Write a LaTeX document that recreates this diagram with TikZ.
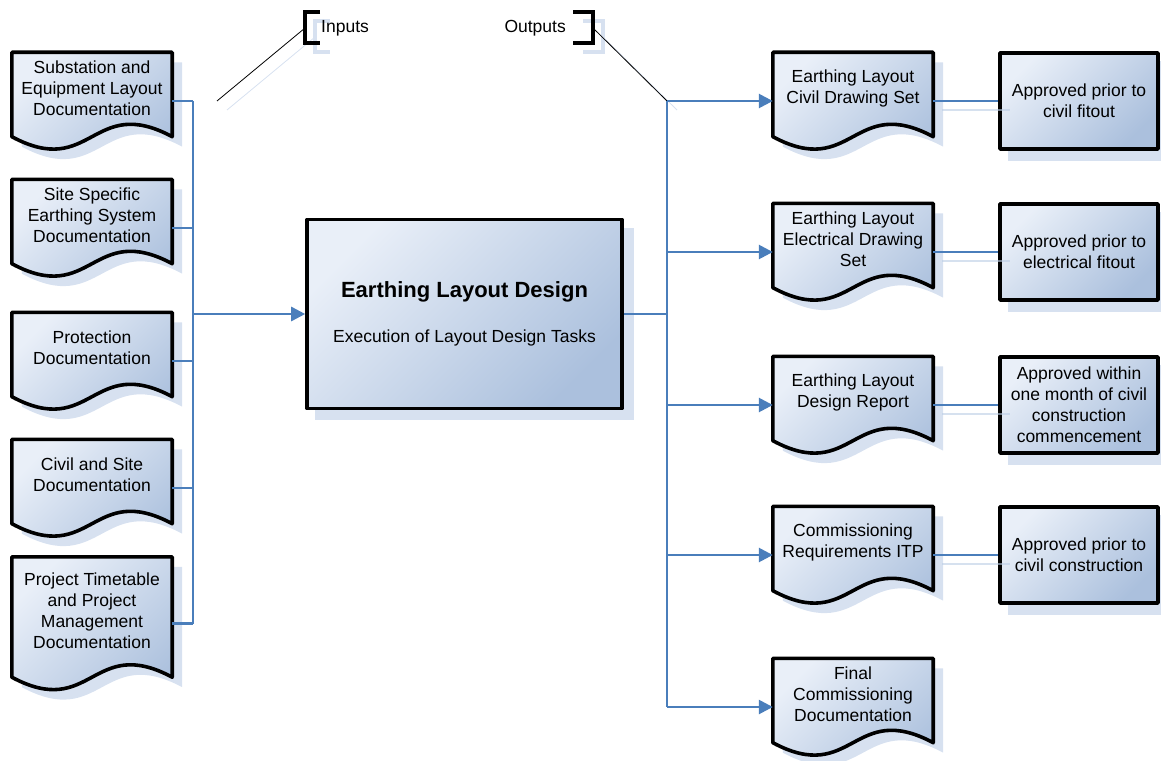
\documentclass[tikz,border=0pt]{standalone}
\usepackage{fontspec}
\setmainfont{Liberation Sans}
\usetikzlibrary{calc,arrows.meta}
\definecolor{cblue}{HTML}{4A7EBB}
\definecolor{gl}{HTML}{E9EFF8}
\definecolor{gd}{HTML}{ABC0DD}
\definecolor{shc}{HTML}{D7E1F0}
\pgfdeclarelayer{bg}
\pgfdeclarelayer{mid}
\pgfsetlayers{bg,mid,main}
\newcommand\docout[2]{($(#1.north west)+(#2,#2)$) -- ($(#1.north east)+(#2,#2)$) -- ($(#1.south east)+(#2,#2-13)$) .. controls ($(#1.south)+(#2,#2-56)$) and ($(#1.south)+(#2,#2+30)$) .. ($(#1.south west)+(#2,#2-13)$) -- cycle}
\tikzset{
  docnode/.style={minimum width=160pt, minimum height=97pt, inner sep=0pt},
  txt/.style={font=\fontsize{17.5}{21}\selectfont, align=center, inner sep=0pt},
  docbody/.style={draw=black, line width=3.6pt, line join=round, top color=gl, bottom color=gd, shading angle=45},
  boxnode/.style={docbody, txt, minimum width=158pt, minimum height=96pt},
  shd/.style={fill=shc, draw=none},
  conn/.style={draw=cblue, line width=2.6pt},
  arr/.style={-{Triangle[length=14pt,width=14pt]}},
  brk/.style={draw=black, line width=4pt},
  brkshd/.style={draw=shc, line width=4pt},
  ann/.style={draw=black, line width=0.8pt},
  annshd/.style={draw=shc, line width=0.8pt},
  cshd/.style={draw=shc!80!cblue, line width=2.4pt, opacity=0.6},
}
\begin{document}
\begin{tikzpicture}[x=1pt,y=-1pt]
\useasboundingbox (0,0) rectangle (1161,760);

% ---------- input documents ----------
\node[docnode] (i1) at (92,101) {};
\node[docnode] (i2) at (92,228) {};
\node[docnode] (i3) at (92,361) {};
\node[docnode] (i4) at (92,488) {};
\node[docnode, minimum height=133pt] (i5) at (92,623.5) {};
% ---------- output documents ----------
\node[docnode] (o1) at (853,101) {};
\node[docnode] (o2) at (853,252) {};
\node[docnode] (o3) at (853,405) {};
\node[docnode] (o4) at (853,555) {};
\node[docnode] (o5) at (853,707) {};

\begin{pgfonlayer}{bg}
  \foreach \n in {i1,i2,i3,i4,i5,o1,o2,o3,o4,o5} {\fill[shd] \docout{\n}{10};}
\end{pgfonlayer}
\begin{pgfonlayer}{mid}
  \foreach \n in {i1,i2,i3,i4,i5,o1,o2,o3,o4,o5} {\draw[docbody] \docout{\n}{0};}
\end{pgfonlayer}

\node[txt] (i1t) at ([yshift=13pt]i1.center) {Substation and\\Equipment Layout\\Documentation};
\node[txt] (i2t) at ([yshift=13pt]i2.center) {Site Specific\\Earthing System\\Documentation};
\node[txt] (i3t) at ([yshift=13pt]i3.center) {Protection\\Documentation};
\node[txt] (i4t) at ([yshift=13pt]i4.center) {Civil and Site\\Documentation};
\node[txt] (i5t) at ([yshift=13pt]i5.center) {Project Timetable\\and Project\\Management\\Documentation};

\node[txt] (o1t) at ([yshift=13pt]o1.center) {Earthing Layout\\Civil Drawing Set};
\node[txt] (o2t) at ([yshift=13pt]o2.center) {Earthing Layout\\Electrical Drawing\\Set};
\node[txt] (o3t) at ([yshift=13pt]o3.center) {Earthing Layout\\Design Report};
\node[txt] (o4t) at ([yshift=13pt]o4.center) {Commissioning\\Requirements ITP};
\node[txt] (o5t) at ([yshift=13pt]o5.center) {Final\\Commissioning\\Documentation};

% ---------- central process ----------
\node[docbody, minimum width=315pt, minimum height=189pt, inner sep=0pt] (mid) at (464.5,314) {};
\node[font=\fontsize{22}{26}\selectfont\bfseries, inner sep=0pt] (midt) at ([yshift=22pt]mid.center) {Earthing Layout Design};
\node[txt] (mids) at ([yshift=-24pt]mid.center) {Execution of Layout Design Tasks};

% ---------- approval boxes ----------
\node[boxnode] (a1) at (1079,101) {Approved prior to\\civil fitout};
\node[boxnode] (a2) at (1079,252) {Approved prior to\\electrical fitout};
\node[boxnode] (a3) at (1079,405) {Approved within\\one month of civil\\construction\\commencement};
\node[boxnode] (a4) at (1079,555) {Approved prior to\\civil construction};

\begin{pgfonlayer}{bg}
  \fill[shd] ($(mid.north west)+(10,10)$) rectangle ($(mid.south east)+(10,10)$);
  \foreach \n in {a1,a2,a3,a4} {\fill[shd] ($(\n.north west)+(10,10)$) rectangle ($(\n.south east)+(10,10)$);}
\end{pgfonlayer}

% connector shadows
\foreach \k in {1,2,3,4} {\draw[cshd] ($(o\k.east)+(9,9)$) -- ($(a\k.west)+(12,9)$);}

% ---------- annotations ----------
\node[txt, anchor=west] (inl) at (321,28.5) {Inputs};
\node[txt, anchor=east] (outl) at (566,28.5) {Outputs};
\coordinate (inb) at (305,28);
\coordinate (ine) at (217,101);
\coordinate (outb) at (593,28);
\coordinate (ob) at (667,101);
\coordinate (ib) at (193,101);
\begin{pgfonlayer}{bg}
  \draw[brkshd] (330,21) -- (315,21) -- (315,52) -- (330,52);
  \draw[brkshd] (583,21) -- (603,21) -- (603,52) -- (583,52);
  \draw[annshd] ($(inb)+(10,9)$) -- ($(ine)+(10,9)$);
  \draw[annshd] ($(outb)+(10,9)$) -- ($(ob)+(10,9)$);
\end{pgfonlayer}
\draw[brk] (320,12) -- (305,12) -- (305,43) -- (320,43);
\draw[brk] (573,12) -- (593,12) -- (593,43) -- (573,43);
\draw[ann] (inb) -- (ine);
\draw[ann] (outb) -- (ob);

% ---------- input connectors ----------
\foreach \n in {i1,i2,i3,i4,i5} {\draw[conn] (\n.east) -- (\n.east -| ib);}
\draw[conn] (i1.east -| ib) -- (i5.east -| ib);
\draw[conn, arr] (mid.west -| ib) -- (mid.west);

% ---------- output connectors ----------
\draw[conn] (mid.east) -- (mid.east -| ob);
\draw[conn] (ob) -- (o5.west -| ob);
\foreach \n in {o1,o2,o3,o4,o5} {\draw[conn, arr] (\n.west -| ob) -- (\n.west);}
\foreach \k in {1,2,3,4} {\draw[conn] (o\k.east) -- (a\k.west);}
\end{tikzpicture}
\end{document}
